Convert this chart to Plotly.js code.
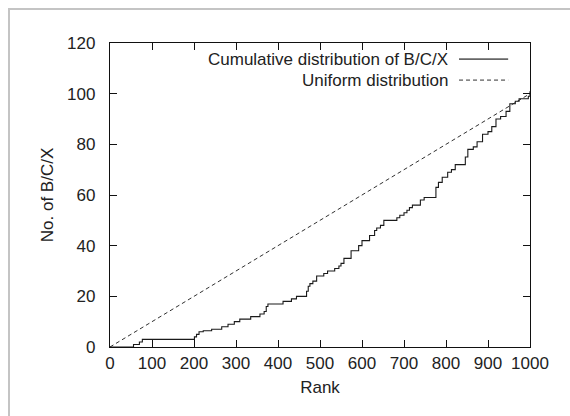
<!DOCTYPE html>
<html>
<head>
<meta charset="utf-8">
<script src="https://cdn.plot.ly/plotly-3.0.1.min.js"></script>
<style>
html,body{margin:0;padding:0;background:#fff;}
#chart{width:570px;height:416px;position:relative;}
#frame{position:absolute;left:8px;top:8px;width:570px;height:420px;border-top:2px solid #c4c4c4;border-left:2px solid #c4c4c4;pointer-events:none;}
</style>
</head>
<body>
<div id="chart"></div>
<div id="frame"></div>
<script>
// Cumulative distribution of B/C/X (step curve)
const rank = [0, 56, 70, 77, 201, 206, 212, 222, 242, 266, 281, 296, 309, 335, 357, 367, 372, 376, 412, 420, 432, 444, 468, 472, 476, 483, 492, 509, 518, 535, 545, 550, 557, 574, 592, 600, 618, 630, 635, 644, 652, 683, 690, 700, 707, 713, 720, 739, 748, 776, 782, 791, 804, 813, 822, 846, 852, 865, 874, 887, 900, 909, 919, 930, 943, 952, 965, 974, 996, 1000];
const count = [0, 1, 2, 3, 4, 5, 6, 6.4, 7, 8, 9, 10, 11, 12, 13, 14, 16, 17, 18, 18, 19, 20, 22, 24, 25, 26, 28, 29, 30, 31, 32, 33, 35, 38, 40, 42, 44, 46, 47, 48, 50, 51, 52, 53, 54, 55, 56, 58, 59, 63, 65, 67, 69, 70, 72, 75, 78, 79, 81, 84, 85, 87, 90, 91, 93, 96, 97, 98, 99, 101];
// Uniform distribution (straight line)
const uniformRank = [0, 1000];
const uniformCount = [0, 100];
const xTicks = [0, 100, 200, 300, 400, 500, 600, 700, 800, 900, 1000];
const yTicks = [0, 20, 40, 60, 80, 100, 120];
const seriesNames = ["Cumulative distribution of B/C/X", "Uniform distribution"];

const font = {family: "'Liberation Sans', Arial, Helvetica, sans-serif", size: 17, color: "#222"};

const traces = [
  {x: rank, y: count, type: "scatter", mode: "lines", line: {shape: "hv", color: "#1a1a1a", width: 1.1}, name: seriesNames[0]},
  {x: uniformRank, y: uniformCount, type: "scatter", mode: "lines", line: {color: "#1a1a1a", width: 0.9, dash: "4px,3px"}, name: seriesNames[1]}
];

const axisCommon = {
  showline: true, linecolor: "#111", linewidth: 1.2, mirror: "ticks",
  ticks: "inside", ticklen: 7, tickwidth: 1, tickcolor: "#111",
  showgrid: false, zeroline: false, tickfont: font
};

const layout = {
  width: 570, height: 416,
  margin: {l: 110, r: 40, t: 43, b: 69},
  paper_bgcolor: "#fff", plot_bgcolor: "#fff",
  showlegend: false,
  font: font,
  xaxis: Object.assign({}, axisCommon, {range: [0, 1000], tickvals: xTicks, ticktext: xTicks.map(String),
    ticklabelstandoff: 0,
    title: {text: "Rank", font: font, standoff: 9}}),
  yaxis: Object.assign({}, axisCommon, {range: [0, 120], tickvals: yTicks, ticktext: yTicks.map(String),
    ticklabelstandoff: 10,
    title: {text: "No. of B/C/X", font: font, standoff: 9}}),
  annotations: [
    {xref: "paper", yref: "paper", x: 0.806, y: 0.947, xanchor: "right", yanchor: "middle", text: seriesNames[0], showarrow: false, font: font, borderpad: 0},
    {xref: "paper", yref: "paper", x: 0.806, y: 0.878, xanchor: "right", yanchor: "middle", text: seriesNames[1], showarrow: false, font: font, borderpad: 0}
  ],
  shapes: [
    {type: "line", xref: "paper", yref: "paper", x0: 0.831, x1: 0.948, y0: 0.947, y1: 0.947, line: {color: "#666", width: 1.6}},
    {type: "line", xref: "paper", yref: "paper", x0: 0.831, x1: 0.948, y0: 0.878, y1: 0.878, line: {color: "#1a1a1a", width: 0.9, dash: "4px,3px"}}
  ]
};

Plotly.newPlot("chart", traces, layout, {staticPlot: true, displayModeBar: false});
</script>
</body>
</html>
